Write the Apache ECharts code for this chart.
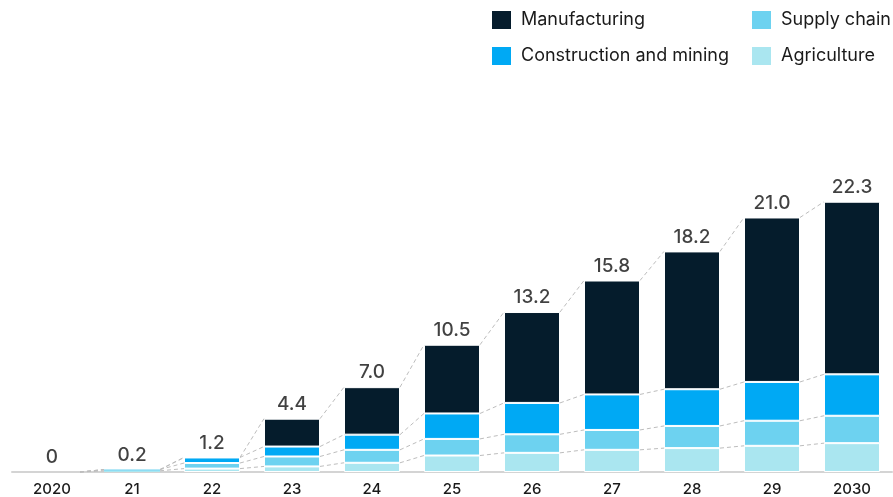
<!DOCTYPE html>
<html>
<head>
<meta charset="utf-8">
<script src="https://cdn.jsdelivr.net/npm/echarts@6/dist/echarts.min.js"></script>
<style>
  html, body { margin: 0; padding: 0; background: #fff; }
  #chart { width: 893px; height: 497px; }
</style>
</head>
<body>
<div id="chart"></div>
<script>
// Years on the horizontal axis
const years = ['2020', '21', '22', '23', '24', '25', '26', '27', '28', '29', '2030'];

// Segment values per year (stacked bottom to top)
const agriculture   = [0, 0.10, 0.28, 0.46, 0.76, 1.36, 1.58, 1.83, 1.97, 2.16, 2.38];
const supplyChain   = [0, 0.10, 0.46, 0.82, 1.07, 1.37, 1.53, 1.64, 1.83, 2.07, 2.26];
const construction  = [0, 0,    0.46, 0.82, 1.25, 2.10, 2.59, 2.93, 3.03, 3.20, 3.42];
const manufacturing = [0, 0,    0,    2.30, 3.92, 5.67, 7.50, 9.40, 11.37, 13.57, 14.24];

// Totals printed above each bar
const totals = [0, 0.2, 1.2, 4.4, 7.0, 10.5, 13.2, 15.8, 18.2, 21.0, 22.3];

const COLORS = {
  manufacturing: '#051C2C',
  construction: '#00A9F4',
  supply: '#6DD2F0',
  agriculture: '#AAE6F0'
};

const FONT = 'Inter, "Liberation Sans", Arial, sans-serif';
const BAR_RATIO = 0.7;

// Running tops of each stacked level, used by the dashed connectors
const stackLayers = [agriculture, supplyChain, construction, manufacturing];
function levelTop(i, level) {
  let s = 0;
  for (let k = 0; k <= level; k++) s += stackLayers[k][i];
  return s;
}

const chart = echarts.init(document.getElementById('chart'), null, { renderer: 'canvas' });

// Very short bars drop the white separators so the sliver stays visible
function barSeries(name, data, color) {
  return {
    name: name,
    type: 'bar',
    stack: 'total',
    data: data.map((v, i) => (totals[i] < 0.5 ? { value: v, itemStyle: { borderWidth: 0 } } : v)),
    barCategoryGap: '30%',
    itemStyle: { color: color, borderColor: '#ffffff', borderWidth: 1 },
    emphasis: { disabled: true },
    z: 3
  };
}

const legendCommon = {
  orient: 'vertical',
  top: 9,
  padding: 0,
  icon: 'rect',
  itemWidth: 21, itemHeight: 20, itemGap: 14,
  selectedMode: false,
  textStyle: { fontFamily: FONT, fontSize: 18, color: '#1a1a1a', padding: [0, 0, 0, 4] }
};

const option = {
  animation: false,
  backgroundColor: '#ffffff',
  textStyle: { fontFamily: FONT },
  grid: { left: 12, right: 1, top: 169, bottom: 24, containLabel: false },
  legend: [
    Object.assign({}, legendCommon, { left: 490, data: ['Manufacturing', 'Construction and mining'] }),
    Object.assign({}, legendCommon, { left: 750, data: ['Supply chain', 'Agriculture'] })
  ],
  xAxis: {
    type: 'category',
    data: years,
    axisTick: { show: false },
    axisLine: { lineStyle: { color: '#d4d4d4', width: 2 } },
    axisLabel: { color: '#1a1a1a', fontSize: 15, fontWeight: 500, margin: 10, fontFamily: FONT }
  },
  yAxis: {
    type: 'value',
    min: 0, max: 25,
    show: false,
    splitLine: { show: false }
  },
  series: [
    barSeries('Agriculture', agriculture, COLORS.agriculture),
    barSeries('Supply chain', supplyChain, COLORS.supply),
    barSeries('Construction and mining', construction, COLORS.construction),
    barSeries('Manufacturing', manufacturing, COLORS.manufacturing),
    {
      // Dashed lines joining each stack level between neighbouring bars
      type: 'custom',
      silent: true,
      z: 1,
      data: years.slice(0, -1).map((y, i) => [i, 0]),
      renderItem: function (params, api) {
        const i = api.value(0);
        const half = api.size([1, 0])[0] * BAR_RATIO / 2;
        const children = [];
        for (let level = 0; level < stackLayers.length; level++) {
          const a = api.coord([i, levelTop(i, level)]);
          const b = api.coord([i + 1, levelTop(i + 1, level)]);
          children.push({
            type: 'line',
            shape: { x1: a[0] + half, y1: a[1], x2: b[0] - half, y2: b[1] },
            style: { stroke: '#bdbdbd', lineWidth: 1, lineDash: [4, 3] }
          });
        }
        return { type: 'group', children: children };
      }
    },
    {
      // Total value above each bar
      type: 'scatter',
      data: totals,
      symbolSize: 0,
      silent: true,
      z: 5,
      label: {
        show: true,
        position: 'top',
        distance: 5,
        fontFamily: FONT,
        fontSize: 19,
        fontWeight: 500,
        color: '#111',
        formatter: p => (p.value === 0 ? '0' : p.value.toFixed(1))
      }
    }
  ]
};

chart.setOption(option);
</script>
</body>
</html>
